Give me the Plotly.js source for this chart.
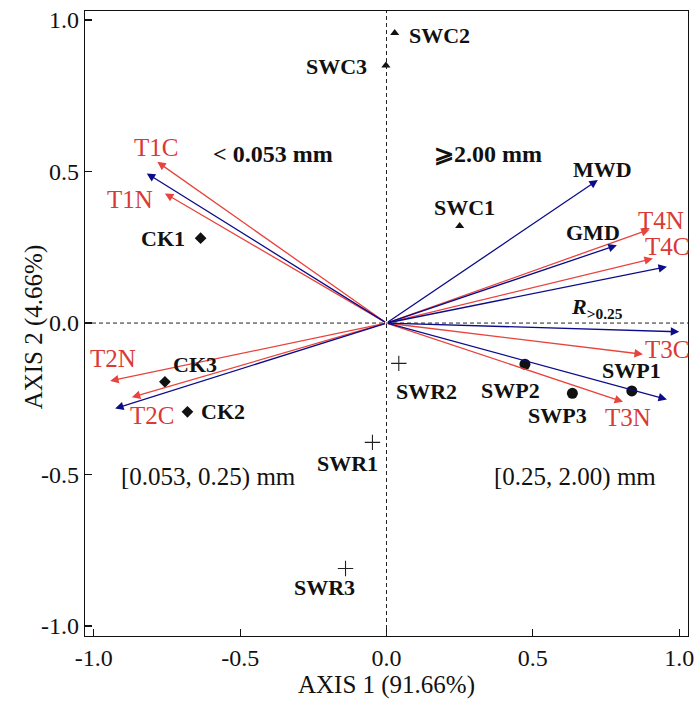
<!DOCTYPE html>
<html>
<head>
<meta charset="utf-8">
<script src="https://cdn.plot.ly/plotly-3.0.1.min.js"></script>
<style>
  html, body { margin: 0; padding: 0; background: #fff; }
  #plot { width: 700px; height: 709px; }
</style>
</head>
<body>
<div id="plot"></div>
<script>
// sample scores (RDA axis 1, axis 2)
var ckNames = ['CK1', 'CK2', 'CK3'];
var ckX = [-0.635, -0.68, -0.757];
var ckY = [0.28, -0.293, -0.194];

var swcNames = ['SWC1', 'SWC2', 'SWC3'];
var swcX = [0.25, 0.028, -0.002];
var swcY = [0.32, 0.957, 0.85];

var swrNames = ['SWR1', 'SWR2', 'SWR3'];
var swrX = [-0.048, 0.042, -0.14];
var swrY = [-0.394, -0.133, -0.81];

var swpNames = ['SWP1', 'SWP2', 'SWP3'];
var swpX = [0.838, 0.473, 0.635];
var swpY = [-0.224, -0.136, -0.232];

// explanatory vectors (red)
var redNames = ['T1C', 'T1N', 'T2C', 'T2N', 'T3C', 'T3N', 'T4C', 'T4N'];
var redX = [-0.783, -0.757, -0.87, -0.944, 0.876, 0.808, 0.91, 0.899];
var redY = [0.532, 0.428, -0.245, -0.191, -0.103, -0.26, 0.213, 0.309];

// aggregate vectors (blue)
var blueNames = ['< 0.053 mm', '[0.053, 0.25) mm', '[0.25, 2.00) mm', '⩾2.00 mm',
                 'MWD', 'GMD', '<i>R</i><sub>&gt;0.25</sub>'];
var blueX = [-0.819, -0.927, 0.958, 0.958, 0.722, 0.787, 1.0];
var blueY = [0.494, -0.282, -0.252, 0.186, 0.472, 0.257, -0.029];

// label offsets in pixels [xshift, yshift]
var labelShift = {
  'CK1': [-38, 0], 'CK2': [36, 0], 'CK3': [30, 17],
  'SWC1': [5, 19], 'SWC2': [45, -2], 'SWC3': [-49, -1],
  'SWR1': [-25, -21], 'SWR2': [28, -28], 'SWR3': [-21, -19],
  'SWP1': [0, 20], 'SWP2': [-14, -26], 'SWP3': [-15, -22],
  'T1C': [-1, 14], 'T1N': [-35, -6], 'T2C': [20, -18], 'T2N': [3, 22],
  'T3C': [24, 5], 'T3N': [5, -16], 'T4C': [14, 12], 'T4N': [11, 9],
  '< 0.053 mm': [126, 19], '[0.053, 0.25) mm': [93, -69],
  '[0.25, 2.00) mm': [-92, -78], '⩾2.00 mm': [-179, 113],
  'MWD': [5, 11], 'GMD': [-24, 13], '<i>R</i><sub>&gt;0.25</sub>': [-82, 24]
};

var RED = '#e8433d';
var RED_TXT = '#d93a35';
var BLUE = '#0c0c8a';
var INK = '#111';
var FONT = 'Liberation Serif, Times New Roman, serif';

var traces = [
  { x: ckX, y: ckY, mode: 'markers', type: 'scatter',
    marker: { symbol: 'diamond', size: 9, color: INK } },
  { x: swcX, y: swcY, mode: 'markers', type: 'scatter',
    marker: { symbol: 'triangle-up', size: 8, color: INK } },
  { x: swrX, y: swrY, mode: 'markers', type: 'scatter',
    marker: { symbol: 'cross-thin-open', size: 11, color: '#222', line: { color: '#222', width: 1.1 } } },
  { x: swpX, y: swpY, mode: 'markers', type: 'scatter',
    marker: { symbol: 'circle', size: 11, color: INK } }
];

var annotations = [];

function addArrows(names, xs, ys, color) {
  for (var i = 0; i < names.length; i++) {
    annotations.push({
      x: xs[i], y: ys[i], ax: 0, ay: 0, xref: 'x', yref: 'y', axref: 'x', ayref: 'y',
      text: '', showarrow: true, arrowhead: 2, arrowsize: 1.3, arrowwidth: 1.3,
      arrowcolor: color, standoff: 0
    });
  }
}

function addLabels(names, xs, ys, color, size, bold) {
  for (var i = 0; i < names.length; i++) {
    var s = labelShift[names[i]] || [0, 0];
    annotations.push({
      x: xs[i], y: ys[i], xref: 'x', yref: 'y', showarrow: false,
      text: bold ? '<b>' + names[i] + '</b>' : names[i],
      xshift: s[0], yshift: s[1],
      font: { family: FONT, size: size, color: color }
    });
  }
}

addArrows(redNames, redX, redY, RED);
addArrows(blueNames, blueX, blueY, BLUE);
addLabels(redNames, redX, redY, RED_TXT, 25, false);
// size-class labels: the two open-interval ones are set lighter
addLabels([blueNames[0], blueNames[3]], [blueX[0], blueX[3]], [blueY[0], blueY[3]], INK, 24, true);
addLabels([blueNames[1], blueNames[2]], [blueX[1], blueX[2]], [blueY[1], blueY[2]], INK, 25, false);
addLabels(blueNames.slice(4), blueX.slice(4), blueY.slice(4), INK, 22, true);
addLabels(ckNames, ckX, ckY, INK, 22, true);
addLabels(swcNames, swcX, swcY, INK, 22, true);
addLabels(swrNames, swrX, swrY, INK, 22, true);
addLabels(swpNames, swpX, swpY, INK, 22, true);

// y axis title placed by hand
annotations.push({
  xref: 'paper', yref: 'paper', x: -0.111, y: 0.494, showarrow: false,
  text: 'AXIS 2 (4.66%)', textangle: -90,
  font: { family: FONT, size: 25, color: INK }
});

var axisBase = {
  showgrid: false, zeroline: false, showline: true, linecolor: INK, linewidth: 1.3,
  mirror: true, ticks: 'inside', ticklen: 7, tickwidth: 1.2, tickcolor: INK,
  tickvals: [-1, -0.5, 0, 0.5, 1], ticktext: ['-1.0', '-0.5', '0.0', '0.5', '1.0'],
  tickfont: { family: FONT, size: 24, color: INK }
};

var layout = {
  width: 700, height: 709,
  margin: { l: 85, r: 12, t: 11, b: 73 },
  showlegend: false,
  paper_bgcolor: '#fff', plot_bgcolor: '#fff',
  xaxis: Object.assign({}, axisBase, {
    range: [-1.03, 1.03],
    title: { text: 'AXIS 1 (91.66%)', standoff: 4, font: { family: FONT, size: 25, color: INK } }
  }),
  yaxis: Object.assign({}, axisBase, { range: [-1.033, 1.03] }),
  shapes: [
    { type: 'line', xref: 'x', yref: 'paper', x0: 0, x1: 0, y0: 0, y1: 1,
      line: { color: '#222', width: 1, dash: '4px,3px' } },
    { type: 'line', xref: 'paper', yref: 'y', x0: 0, x1: 1, y0: 0, y1: 0,
      line: { color: '#222', width: 1, dash: '4px,3px' } }
  ],
  annotations: annotations
};

Plotly.newPlot('plot', traces, layout, { displayModeBar: false, staticPlot: true });
</script>
</body>
</html>
